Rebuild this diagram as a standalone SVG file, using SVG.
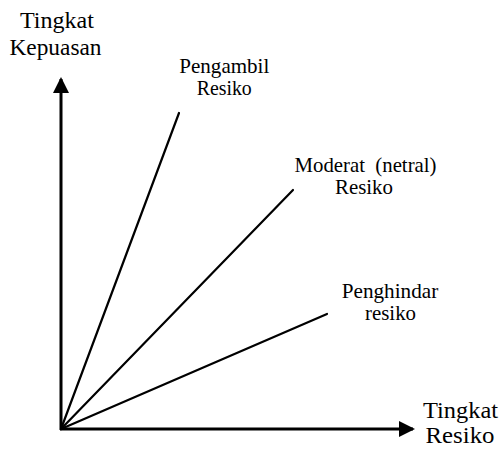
<svg xmlns="http://www.w3.org/2000/svg" width="499" height="454" viewBox="0 0 499 454">
  <style>
    text { font-family: "Liberation Serif", "Times New Roman", Times, serif; fill: #000; text-anchor: middle; }
    .ax { font-size: 23.5px; }
    .lb { font-size: 21px; }
    .axis { stroke: #000; stroke-width: 3; fill: none; }
    .ray { stroke: #000; stroke-width: 2.2; fill: none; stroke-linecap: round; }
  </style>
  <defs>
    <marker id="head" viewBox="0 0 16 16" refX="14" refY="8" markerWidth="16" markerHeight="16" markerUnits="userSpaceOnUse" orient="auto">
      <path d="M0,0 L16,8 L0,16 Z" fill="#000"/>
    </marker>
  </defs>

  <!-- axes and the three utility rays from the origin -->
  <g id="connectors">
    <line class="axis" x1="61" y1="430" x2="61" y2="79" marker-end="url(#head)"/>
    <line class="axis" x1="60" y1="429" x2="413" y2="429" marker-end="url(#head)"/>
    <line class="ray" x1="61" y1="429" x2="179" y2="113"/>
    <line class="ray" x1="61" y1="429" x2="293" y2="190"/>
    <line class="ray" x1="61" y1="429" x2="327" y2="314"/>
  </g>

  <g id="y-axis-label">
    <text class="ax" x="57" y="28" textLength="74" lengthAdjust="spacingAndGlyphs">Tingkat</text>
    <text class="ax" x="55.5" y="54.5" textLength="92" lengthAdjust="spacingAndGlyphs">Kepuasan</text>
  </g>
  <g id="x-axis-label">
    <text class="ax" x="460.5" y="418" textLength="75" lengthAdjust="spacingAndGlyphs">Tingkat</text>
    <text class="ax" x="460" y="443" textLength="69" lengthAdjust="spacingAndGlyphs">Resiko</text>
  </g>
  <g id="pengambil">
    <text class="lb" x="224.3" y="73" textLength="90" lengthAdjust="spacingAndGlyphs">Pengambil</text>
    <text class="lb" x="224.2" y="95" textLength="55" lengthAdjust="spacingAndGlyphs">Resiko</text>
  </g>
  <g id="moderat">
    <text class="lb" x="365.5" y="172" xml:space="preserve" textLength="142" lengthAdjust="spacingAndGlyphs">Moderat  (netral)</text>
    <text class="lb" x="364" y="194" textLength="58" lengthAdjust="spacingAndGlyphs">Resiko</text>
  </g>
  <g id="penghindar">
    <text class="lb" x="390" y="298" textLength="96.5" lengthAdjust="spacingAndGlyphs">Penghindar</text>
    <text class="lb" x="390.5" y="320" textLength="51" lengthAdjust="spacingAndGlyphs">resiko</text>
  </g>
</svg>
